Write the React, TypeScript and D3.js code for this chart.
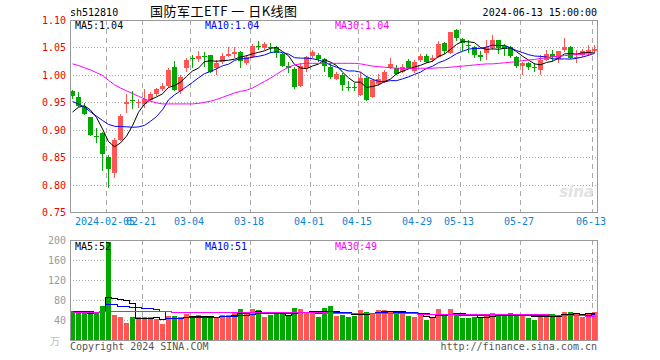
import React from "react";
import * as d3 from "d3";

const W = 660;
const H = 360;

// ---- Data ----
const opens = [
  0.971, 0.96, 0.941, 0.923, 0.889, 0.894, 0.851, 0.822, 0.882, 0.946,
  0.954, 0.95, 0.947, 0.955, 0.966, 0.974, 0.98, 1.014, 0.97, 1.012,
  1.031, 1.029, 1.034, 1.036, 1.012, 1.024, 1.035, 1.038, 1.041, 1.021,
  1.032, 1.053, 1.049, 1.051, 1.05, 1.038, 1.017, 1.011, 0.979, 1.013,
  1.035, 1.036, 1.029, 1.015, 0.993, 1.0, 0.978, 0.978, 0.964, 0.995,
  0.959, 0.983, 0.987, 1.013, 1.013, 1.006, 1.026, 1.007, 1.027, 1.035,
  1.027, 1.032, 1.058, 1.04, 1.082, 1.066, 1.055, 1.05, 1.036, 1.04,
  1.049, 1.064, 1.052, 1.05, 1.032, 1.017, 1.021, 1.015, 1.008, 1.027,
  1.038, 1.029, 1.045, 1.05, 1.03, 1.036, 1.04, 1.044,
];
const closes = [
  0.961, 0.944, 0.928, 0.891, 0.888, 0.856, 0.829, 0.881, 0.925, 0.95,
  0.952, 0.951, 0.956, 0.966, 0.974, 0.98, 1.009, 0.973, 0.997, 1.027,
  1.029, 1.035, 1.032, 1.006, 1.022, 1.035, 1.038, 1.042, 1.026, 1.033,
  1.053, 1.051, 1.056, 1.049, 1.04, 1.017, 1.012, 0.977, 1.017, 1.033,
  1.042, 1.029, 1.016, 0.996, 1.002, 0.982, 0.977, 0.977, 0.995, 0.954,
  0.991, 0.992, 1.006, 1.019, 1.001, 1.015, 1.013, 1.023, 1.035, 1.023,
  1.03, 1.057, 1.044, 1.078, 1.068, 1.058, 1.053, 1.037, 1.033, 1.05,
  1.064, 1.049, 1.047, 1.035, 1.017, 1.022, 1.014, 1.012, 1.027, 1.038,
  1.032, 1.044, 1.05, 1.03, 1.033, 1.044, 1.046, 1.047,
];
const highs = [
  0.973, 0.969, 0.948, 0.924, 0.903, 0.896, 0.854, 0.885, 0.929, 0.966,
  0.97, 0.956, 0.974, 0.969, 0.976, 0.986, 1.013, 1.025, 0.999, 1.03,
  1.036, 1.044, 1.042, 1.037, 1.027, 1.04, 1.05, 1.05, 1.043, 1.036,
  1.056, 1.062, 1.06, 1.058, 1.052, 1.039, 1.024, 1.014, 1.021, 1.035,
  1.046, 1.04, 1.031, 1.021, 1.006, 1.003, 0.988, 0.985, 1.006, 0.998,
  0.993, 1.001, 1.008, 1.03, 1.018, 1.02, 1.028, 1.027, 1.038, 1.038,
  1.036, 1.061, 1.06, 1.079, 1.083, 1.067, 1.064, 1.052, 1.043, 1.064,
  1.073, 1.064, 1.056, 1.052, 1.034, 1.023, 1.024, 1.021, 1.036, 1.046,
  1.046, 1.044, 1.067, 1.052, 1.046, 1.047, 1.055, 1.054,
];
const lows = [
  0.956, 0.942, 0.926, 0.888, 0.875, 0.825, 0.794, 0.812, 0.88, 0.93,
  0.937, 0.94, 0.94, 0.953, 0.961, 0.97, 0.978, 0.97, 0.965, 1.006,
  1.012, 1.023, 1.015, 1.003, 1.0, 1.02, 1.032, 1.03, 1.012, 1.018,
  1.03, 1.045, 1.046, 1.04, 1.03, 1.015, 1.003, 0.974, 0.977, 1.006,
  1.03, 1.024, 1.006, 0.993, 0.991, 0.97, 0.97, 0.97, 0.962, 0.952,
  0.957, 0.98, 0.985, 1.011, 0.999, 1.004, 1.01, 1.004, 1.024, 1.021,
  1.024, 1.03, 1.038, 1.038, 1.061, 1.043, 1.04, 1.03, 1.026, 1.027,
  1.046, 1.038, 1.035, 1.03, 1.013, 0.999, 1.008, 1.005, 0.999, 1.025,
  1.025, 1.021, 1.042, 1.028, 1.021, 1.033, 1.034, 1.04,
];
// closes of the 9 sessions before the first visible one (estimated from the MA5/MA10 start)
const prevCloses = [0.99, 0.985, 0.978, 0.965, 0.935, 0.9, 0.915, 0.93, 0.955];
// MA30 of price
const ma30 = [
  1.02, 1.017, 1.013, 1.009, 1.004, 0.999, 0.99, 0.982, 0.976, 0.971,
  0.966, 0.961, 0.956, 0.952, 0.949, 0.947, 0.947, 0.947, 0.947, 0.947,
  0.947, 0.948, 0.95, 0.952, 0.955, 0.959, 0.963, 0.967, 0.97, 0.972,
  0.976, 0.982, 0.988, 0.994, 1.001, 1.008, 1.014, 1.018, 1.02, 1.021,
  1.021, 1.021, 1.021, 1.021, 1.021, 1.021, 1.021, 1.021, 1.02, 1.018,
  1.016, 1.015, 1.014, 1.013, 1.012, 1.012, 1.012, 1.012, 1.012, 1.012,
  1.012, 1.013, 1.013, 1.014, 1.015, 1.016, 1.017, 1.018, 1.019, 1.02,
  1.02, 1.021, 1.022, 1.023, 1.024, 1.026, 1.027, 1.028, 1.03, 1.031,
  1.033, 1.034, 1.035, 1.036, 1.037, 1.038, 1.038, 1.039,
];
// volume (万手)
const volumes = [
  58.7, 53.3, 55.3, 54.7, 53.3, 68.7, 196, 50.7, 45.3, 34.7,
  45.3, 46.7, 46.7, 45.3, 42.7, 32.7, 48.7, 48.7, 46.7, 52.7,
  44, 49.3, 44, 48.7, 46.7, 50, 50.7, 56.7, 62.7, 52,
  62.7, 60.7, 46.7, 50.7, 54, 54, 47.3, 64.7, 62.7, 55.3,
  56.7, 46.7, 64.7, 68.7, 48.7, 50.7, 46.7, 48.7, 60.7, 56.7,
  52.7, 60.7, 60.7, 58.7, 55.3, 56.7, 48.7, 46.7, 50, 40.7,
  46.7, 62.7, 50.7, 62.7, 50, 44.7, 44.7, 46.7, 46.7, 48.7,
  54.7, 50, 50, 54.7, 50, 50.7, 44.7, 40.7, 50, 50.7,
  52, 48.7, 56.7, 56.7, 52, 46.7, 54.7, 56.7,
];
const prevVolumes = [57, 60, 58, 62, 60, 53, 55, 73, 53];
const volMa30 = [
  57, 57, 57, 57, 57, 58.5, 58.5, 58.5, 58.5, 58.5,
  58.5, 58.5, 58.5, 58.5, 58.5, 58.5, 58.5, 57, 57, 57,
  57, 57, 57, 57, 57, 57, 57, 57, 57, 57,
  55.5, 55.5, 55.5, 55.5, 55.5, 55.5, 55.5, 55.5, 55.5, 55.5,
  55.5, 55.5, 55.5, 54.5, 54.5, 54.5, 54.5, 54.5, 54.5, 54.5,
  54.5, 54.5, 54.5, 54.5, 54.5, 54.5, 54.5, 54.5, 53, 53,
  53, 53, 53, 53, 53, 53, 53, 51.5, 51.5, 51.5,
  51.5, 51.5, 51.5, 51.5, 51.5, 51.5, 51.5, 51.5, 51.5, 51.5,
  50, 50, 50, 50, 50, 49.5, 49, 49,
];
const tickIndex = [6, 12, 20, 30, 40, 48, 58, 65, 75, 87];
const tickLabels = ["2024-02-05", "02-21", "03-04", "03-18", "04-01", "04-15", "04-29", "05-13", "05-27", "06-13"];
const priceTicks = [1.1, 1.05, 1.0, 0.95, 0.9, 0.85, 0.8, 0.75];
const volTicks = [200, 160, 120, 80, 40];
const priceLegend = ["MA5:1.04", "MA10:1.04", "MA30:1.04"];
const volLegend = ["MA5:52", "MA10:51", "MA30:49"];
const titleText = "国防军工ETF 一 日K线图";
const codeText = "sh512810";
const timeText = "2024-06-13 15:00:00";

// ---- Styles ----
const UP = "#ff5555";
const DOWN = "#00a800";
const MONO = "'DejaVu Sans Mono', 'Liberation Mono', monospace";
const MA_COLORS = ["#000000", "#0000ff", "#ff00ff"];

function movingAvg(values: number[], prev: number[], n: number): number[] {
  const all = prev.concat(values);
  return values.map((_, i) => {
    const end = prev.length + i;
    return d3.mean(all.slice(Math.max(0, end - n + 1), end + 1)) as number;
  });
}

export default function App() {
  const n = closes.length;
  const L = 70, R = 597;
  const pTop = 20, pBot = 212;
  const vTop = 240, vBot = 340;

  const x = d3.scaleBand<number>().domain(d3.range(n)).range([L, R]).paddingInner(1 / 6).paddingOuter(0);
  const bw = Math.round(x.bandwidth());
  const xl = (i: number) => Math.round(x(i) as number);
  const xc = (i: number) => xl(i) + bw / 2;
  const yP = d3.scaleLinear().domain([0.75, 1.1]).range([pBot, pTop]);
  const yV = d3.scaleLinear().domain([0, 200]).range([vBot, vTop]);

  const ma5 = movingAvg(closes, prevCloses, 5);
  const ma10 = movingAvg(closes, prevCloses, 10);
  const vma5 = movingAvg(volumes, prevVolumes, 5);
  const vma10 = movingAvg(volumes, prevVolumes, 10);

  const priceLine = d3.line<number>().x((_, i) => xc(i)).y((d) => yP(d));
  const volLine = d3.line<number>().x((_, i) => xc(i)).y((d) => Math.round(yV(d)) + 0.5).curve(d3.curveStep);

  const gridV = (top: number, bot: number) =>
    tickIndex.map((ti) => (
      <line key={`v${top}-${ti}`} x1={xl(ti) + 0.5} x2={xl(ti) + 0.5} y1={top} y2={bot}
        stroke="#aaa" strokeDasharray="5,4" shapeRendering="crispEdges" />
    ));

  return (
    <svg width={W} height={H} viewBox={`0 0 ${W} ${H}`}
      style={{ position: "fixed", left: 0, top: 0, background: "#fff" }}>
      <rect x={0} y={0} width={W} height={H} fill="#fff" />

      {/* header */}
      <text x={70} y={16} fontFamily={MONO} fontSize={10} fill="#000">{codeText}</text>
      <text x={150} y={16} fontFamily="'Noto Sans CJK SC', sans-serif" fontSize={13} fill="#000"
        textLength={147} lengthAdjust="spacing">{titleText}</text>
      <text x={597} y={16} fontFamily={MONO} fontSize={10} fill="#000" textAnchor="end">{timeText}</text>

      {/* price grid */}
      {priceTicks.slice(1, -1).map((t) => (
        <line key={`hp${t}`} x1={L} x2={R} y1={Math.round(yP(t)) + 0.5} y2={Math.round(yP(t)) + 0.5}
          stroke="#aaa" strokeDasharray="1,2" shapeRendering="crispEdges" />
      ))}
      {gridV(pTop, pBot)}
      {priceTicks.map((t) => (
        <text key={`lp${t}`} x={66} y={yP(t) + 4} fontFamily={MONO} fontSize={10} fill="#ee0000" textAnchor="end">
          {t.toFixed(2)}
        </text>
      ))}
      {tickIndex.map((ti, k) => (
        <text key={`lx${ti}`} x={xl(ti) - 1} y={225} fontFamily={MONO} fontSize={10} fill="#0a84d6" textAnchor="middle">
          {tickLabels[k]}
        </text>
      ))}

      {/* watermark */}
      <text x={594} y={197} fontFamily="'DejaVu Sans', sans-serif" fontSize={15} fontWeight="bold" fontStyle="italic"
        fill="#e2e2e2" textAnchor="end">sina</text>

      {/* candles */}
      {closes.map((c, i) => {
        const o = opens[i];
        const up = c >= o;
        const col = up ? UP : DOWN;
        const yTop = Math.round(yP(Math.max(o, c)));
        const yB = Math.round(yP(Math.min(o, c)));
        return (
          <g key={`c${i}`} shapeRendering="crispEdges">
            <line x1={xl(i) + 2.5} x2={xl(i) + 2.5} y1={Math.round(yP(highs[i]))} y2={Math.round(yP(lows[i]))} stroke={col} />
            <rect x={xl(i)} y={yTop} width={bw} height={Math.max(1, yB - yTop)} fill={col} />
          </g>
        );
      })}

      {/* price MAs */}
      {[ma5, ma10, ma30].map((s, k) => (
        <path key={`ma${k}`} d={priceLine(s) as string} fill="none" stroke={MA_COLORS[k]} strokeWidth={1} />
      ))}

      {/* price frame */}
      <rect x={L + 0.5} y={pTop + 0.5} width={R - L} height={pBot - pTop} fill="none" stroke="#999" shapeRendering="crispEdges" />
      {priceLegend.map((t, k) => (
        <text key={`pl${k}`} x={[75, 205, 335][k]} y={29} fontFamily={MONO} fontSize={10} fill={MA_COLORS[k]}>{t}</text>
      ))}

      {/* volume grid */}
      {volTicks.slice(1).map((t) => (
        <line key={`hv${t}`} x1={L} x2={R} y1={yV(t) + 0.5} y2={yV(t) + 0.5}
          stroke="#aaa" strokeDasharray="1,2" shapeRendering="crispEdges" />
      ))}
      {gridV(vTop, vBot)}
      {volTicks.map((t) => (
        <text key={`lv${t}`} x={66} y={yV(t) + 3.5} fontFamily={MONO} fontSize={10} fill="#999" textAnchor="end">{t}</text>
      ))}
      <text x={50} y={345} fontFamily="'Noto Sans CJK SC', sans-serif" fontSize={10} fill="#bbb">万</text>

      {/* volume bars */}
      {volumes.map((v, i) => {
        const up = closes[i] >= opens[i];
        const yt = Math.round(yV(Math.min(v, 200)));
        return (
          <rect key={`vb${i}`} x={xl(i)} y={yt} width={bw} height={vBot - yt} fill={up ? UP : DOWN} shapeRendering="crispEdges" />
        );
      })}
      {[vma5, vma10, volMa30].map((s, k) => (
        <path key={`vma${k}`} d={volLine(s) as string} fill="none" stroke={MA_COLORS[k]} strokeWidth={1} shapeRendering="crispEdges" />
      ))}

      <rect x={L + 0.5} y={vTop + 0.5} width={R - L} height={vBot - vTop} fill="none" stroke="#999" shapeRendering="crispEdges" />
      {volLegend.map((t, k) => (
        <text key={`vl${k}`} x={[75, 205, 335][k]} y={250} fontFamily={MONO} fontSize={10} fill={MA_COLORS[k]}>{t}</text>
      ))}

      {/* footer */}
      <text x={70} y={350} fontFamily={MONO} fontSize={10} fill="#555">Copyright 2024 SINA.COM</text>
      <text x={597} y={350} fontFamily={MONO} fontSize={10} fill="#555" textAnchor="end">http://finance.sina.com.cn</text>
    </svg>
  );
}
